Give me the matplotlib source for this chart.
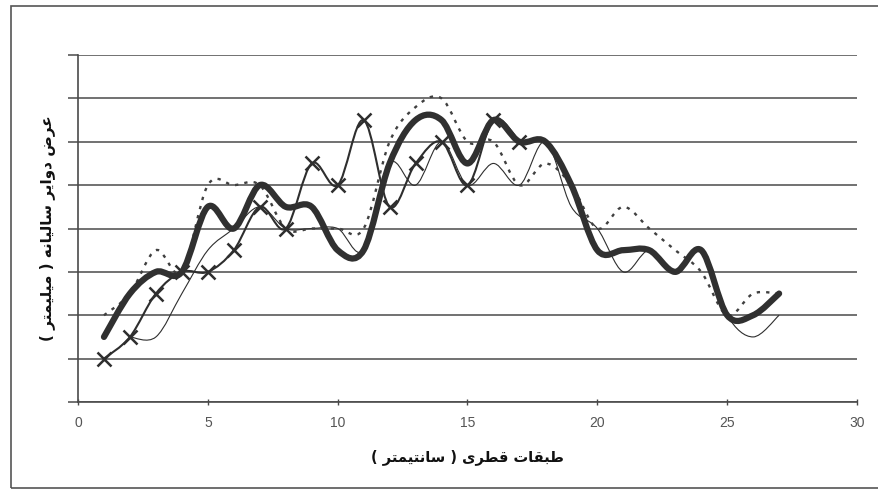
import matplotlib
matplotlib.use("Agg")
import matplotlib.pyplot as plt
from matplotlib.path import Path
from matplotlib.patches import PathPatch, Rectangle

# ---------------- data ----------------
x_thick = list(range(1, 28))
y_thick = [1.5, 2.5, 3.0, 3.0, 4.5, 4.0, 5.0, 4.5, 4.5, 3.5, 3.5, 5.5, 6.5, 6.5,
           5.5, 6.5, 6.0, 6.0, 5.0, 3.5, 3.5, 3.5, 3.0, 3.5, 2.0, 2.0, 2.5]

x_cross = list(range(1, 18))
y_cross = [1.0, 1.5, 2.5, 3.0, 3.0, 3.5, 4.5, 4.0, 5.5, 5.0, 6.5, 4.5, 5.5, 6.0,
           5.0, 6.5, 6.0]

x_thin = list(range(2, 28))
y_thin = [1.5, 1.5, 2.5, 3.5, 4.0, 4.5, 4.0, 4.0, 4.0, 3.5, 5.5, 5.0, 6.0, 5.0,
          5.5, 5.0, 6.0, 4.5, 4.0, 3.0, 3.5, 3.0, 3.5, 2.0, 1.5, 2.0]

x_dot = list(range(1, 28))
y_dot = [2.0, 2.5, 3.5, 3.0, 5.0, 5.0, 5.0, 4.0, 4.0, 4.0, 4.0, 6.0, 6.8, 7.0,
         6.0, 6.0, 5.0, 5.5, 5.0, 4.0, 4.5, 4.0, 3.5, 3.0, 2.0, 2.5, 2.5]

x_ticks = [0, 5, 10, 15, 20, 25, 30]
x_label = "طبقات قطری ( سانتیمتر )"
y_label = "عرض دوایر سالیانه ( میلیمتر )"

# ---------------- Arabic/Persian shaping (presentation forms) ----------------
FORMS = {
    'ا': ('\uFE8D', '\uFE8E', None, None),
    'ب': ('\uFE8F', '\uFE90', '\uFE91', '\uFE92'),
    'ت': ('\uFE95', '\uFE96', '\uFE97', '\uFE98'),
    'د': ('\uFEA9', '\uFEAA', None, None),
    'ر': ('\uFEAD', '\uFEAE', None, None),
    'س': ('\uFEB1', '\uFEB2', '\uFEB3', '\uFEB4'),
    'ض': ('\uFEBD', '\uFEBE', '\uFEBF', '\uFEC0'),
    'ط': ('\uFEC1', '\uFEC2', '\uFEC3', '\uFEC4'),
    'ع': ('\uFEC9', '\uFECA', '\uFECB', '\uFECC'),
    'ق': ('\uFED5', '\uFED6', '\uFED7', '\uFED8'),
    'ل': ('\uFEDD', '\uFEDE', '\uFEDF', '\uFEE0'),
    'م': ('\uFEE1', '\uFEE2', '\uFEE3', '\uFEE4'),
    'ن': ('\uFEE5', '\uFEE6', '\uFEE7', '\uFEE8'),
    'ه': ('\uFEE9', '\uFEEA', '\uFEEB', '\uFEEC'),
    'و': ('\uFEED', '\uFEEE', None, None),
    'ی': ('\uFBFC', '\uFBFD', '\uFBFE', '\uFBFF'),
}
MIRROR = {'(': ')', ')': '('}


def shape_rtl(text):
    out = []
    n = len(text)
    for i, c in enumerate(text):
        if c not in FORMS:
            out.append(MIRROR.get(c, c))
            continue
        prev = text[i - 1] if i > 0 else None
        nxt = text[i + 1] if i + 1 < n else None
        join_prev = prev in FORMS and FORMS[prev][2] is not None
        join_next = nxt in FORMS and FORMS[c][2] is not None
        iso, fin, ini, med = FORMS[c]
        if join_prev and join_next:
            out.append(med)
        elif join_prev:
            out.append(fin)
        elif join_next:
            out.append(ini)
        else:
            out.append(iso)
    return ''.join(reversed(out))


# ---------------- smoothing (Excel-like bezier) ----------------
def smooth_path(xs, ys):
    pts = list(zip(xs, ys))
    n = len(pts)
    verts = [pts[0]]
    codes = [Path.MOVETO]
    for i in range(n - 1):
        p0 = pts[i - 1] if i > 0 else pts[i]
        p1 = pts[i]
        p2 = pts[i + 1]
        p3 = pts[i + 2] if i + 2 < n else pts[i + 1]
        c1 = (p1[0] + (p2[0] - p0[0]) / 6.0, p1[1] + (p2[1] - p0[1]) / 6.0)
        c2 = (p2[0] - (p3[0] - p1[0]) / 6.0, p2[1] - (p3[1] - p1[1]) / 6.0)
        verts += [c1, c2, p2]
        codes += [Path.CURVE4] * 3
    return Path(verts, codes)


# ---------------- figure ----------------
fig = plt.figure(figsize=(8.79, 4.92), dpi=100)
ax = fig.add_axes([78 / 879, 1 - 402 / 492, (857 - 78) / 879, (402 - 55) / 492])
ax.set_xlim(0, 30)
ax.set_ylim(0, 8)

grid_c = '#4a4a4a'
line_c = '#2e2e2e'

for s in ['top', 'right']:
    ax.spines[s].set_visible(False)
for s in ['left', 'bottom']:
    ax.spines[s].set_color(grid_c)
    ax.spines[s].set_linewidth(1.2)

ax.set_yticks(range(0, 9))
ax.set_yticklabels([])
ax.yaxis.grid(True, color=grid_c, linewidth=1.1)
ax.set_axisbelow(True)
ax.tick_params(axis='y', direction='out', length=7, width=1.1, color=grid_c)
ax.set_xticks(x_ticks)
ax.set_xticklabels([str(t) for t in x_ticks], family='Liberation Sans',
                   fontsize=10, color='#555555')
ax.tick_params(axis='x', direction='inout', length=4, width=1.0,
               color=grid_c, pad=8)

# series
ax.add_patch(PathPatch(smooth_path(x_thin, y_thin), fill=False,
                       edgecolor=line_c, linewidth=0.8, zorder=3))
ax.add_patch(PathPatch(smooth_path(x_dot, y_dot), fill=False,
                       edgecolor='#404040', linewidth=1.7,
                       linestyle=(0, (1.4, 2.6)), zorder=3))
ax.add_patch(PathPatch(smooth_path(x_cross, y_cross), fill=False,
                       edgecolor=line_c, linewidth=1.5, zorder=4))
ax.plot(x_cross, y_cross, linestyle='none', marker='x', markersize=10,
        markeredgewidth=1.8, color=line_c, zorder=5)
ax.add_patch(PathPatch(smooth_path(x_thick, y_thick), fill=False,
                       edgecolor='#303030', linewidth=4.5, zorder=6,
                       capstyle='round', joinstyle='round'))

ax.set_xlabel(shape_rtl(x_label), family=['DejaVu Sans'], fontweight='bold',
              fontsize=10.5, labelpad=14, color='#111111')
ax.set_ylabel(shape_rtl(y_label), family=['DejaVu Sans'], fontweight='bold',
              fontsize=11, labelpad=6, color='#111111')

# outer frame
fig.patches.append(Rectangle((11 / 879, 4 / 492), 1.0, 482 / 492,
                             transform=fig.transFigure, fill=False,
                             edgecolor='#555555', linewidth=1.2))

fig.savefig('out.png', dpi=100)
